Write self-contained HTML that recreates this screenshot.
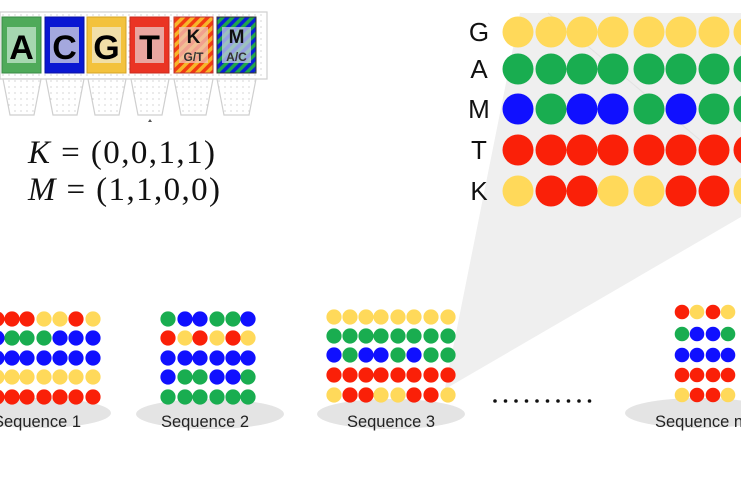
<!DOCTYPE html>
<html><head><meta charset="utf-8"><style>
html,body{margin:0;padding:0;background:#fff;width:741px;height:486px;overflow:hidden}
svg{display:block}
</style></head><body>
<svg width="741" height="486" viewBox="0 0 741 486" xmlns="http://www.w3.org/2000/svg">
<defs>
<pattern id="dots" width="6" height="6" patternUnits="userSpaceOnUse"><rect width="6" height="6" fill="#fff"/><circle cx="3" cy="3" r="0.6" fill="#bbb"/></pattern>
<pattern id="kstripe" width="7" height="7" patternUnits="userSpaceOnUse" patternTransform="rotate(45)"><rect width="7" height="7" fill="#f23a12"/><rect width="3.5" height="7" fill="#f7b52a"/></pattern>
<pattern id="mstripe" width="7" height="7" patternUnits="userSpaceOnUse" patternTransform="rotate(45)"><rect width="7" height="7" fill="#0a1fd6"/><rect width="3.5" height="7" fill="#1fa64a"/></pattern>
</defs>

<polygon points="520,13 741,13 741,217 447,388 445,388" fill="#efefef"/>
<line x1="548" y1="13" x2="700" y2="140" stroke="#e2e2e2" stroke-width="1"/>

<rect x="0" y="12" width="267" height="67" fill="url(#dots)" stroke="#cfcfcf" stroke-width="1.2"/>
<g stroke="#cfcfcf" stroke-width="1.2" fill="url(#dots)">
<polygon points="3,79 41,79 34,115 10,115"/>
<polygon points="46,79 84,79 77,115 53,115"/>
<polygon points="88,79 126,79 119,115 95,115"/>
<polygon points="131,79 169,79 162,115 138,115"/>
<polygon points="174,79 213,79 206,115 181,115"/>
<polygon points="217,79 256,79 249,115 224,115"/>
</g>
<path d="M148,122 l2,-3 l2,3z" fill="#555"/>
<rect x="2" y="17" width="39" height="56" fill="#4faa5a" stroke="#3a8a45"/>
<rect x="7" y="27" width="29" height="36" fill="#a6d7b0"/>
<rect x="45" y="17" width="39" height="56" fill="#0a17d2" stroke="#0a10a0"/>
<rect x="50" y="27" width="29" height="36" fill="#a4a8de"/>
<rect x="87" y="17" width="39" height="56" fill="#f3c23d" stroke="#d6a428"/>
<rect x="92" y="27" width="29" height="36" fill="#f1dfa8"/>
<rect x="130" y="17" width="39" height="56" fill="#ea3424" stroke="#c82a1c"/>
<rect x="135" y="27" width="29" height="36" fill="#e9a6a0"/>
<rect x="174" y="17" width="39" height="56" fill="url(#kstripe)" stroke="#b33"/>
<rect x="179" y="27" width="29" height="36" fill="#f0c3b8" opacity="0.75"/>
<rect x="217" y="17" width="39" height="56" fill="url(#mstripe)" stroke="#333"/>
<rect x="222" y="27" width="29" height="36" fill="#c5cbe6" opacity="0.75"/>
<g font-family="Liberation Sans, sans-serif" font-weight="bold" text-anchor="middle" fill="#111">
<text x="21.5" y="59" font-size="34" fill="#000">A</text>
<text x="64.5" y="59" font-size="34" fill="#000">C</text>
<text x="106.5" y="59" font-size="34" fill="#000">G</text>
<text x="149.5" y="59" font-size="34" fill="#000">T</text>
<text x="193.5" y="43" font-size="19">K</text>
<text x="193.5" y="61" font-size="12" fill="#333">G/T</text>
<text x="236.5" y="43" font-size="19">M</text>
<text x="236.5" y="61" font-size="12" fill="#333">A/C</text>
</g>

<g font-family="Liberation Serif, serif" font-size="33" fill="#111">
<text x="28" y="163" textLength="187" lengthAdjust="spacing"><tspan font-style="italic">K</tspan> = (0,0,1,1)</text>
<text x="28" y="200" textLength="192" lengthAdjust="spacing"><tspan font-style="italic">M</tspan> = (1,1,0,0)</text>
</g>

<g font-family="Liberation Sans, sans-serif" font-size="26" fill="#111" text-anchor="middle">
<text x="479" y="41">G</text>
<text x="479" y="78">A</text>
<text x="479" y="118">M</text>
<text x="479" y="159">T</text>
<text x="479" y="200">K</text>
</g>
<g>
<circle cx="518" cy="32" r="15.5" fill="#ffd95a"/><circle cx="551" cy="32" r="15.5" fill="#ffd95a"/><circle cx="582" cy="32" r="15.5" fill="#ffd95a"/><circle cx="613" cy="32" r="15.5" fill="#ffd95a"/><circle cx="649" cy="32" r="15.5" fill="#ffd95a"/><circle cx="681" cy="32" r="15.5" fill="#ffd95a"/><circle cx="714" cy="32" r="15.5" fill="#ffd95a"/><circle cx="749" cy="32" r="15.5" fill="#ffd95a"/>
<circle cx="518" cy="69" r="15.5" fill="#19ad50"/><circle cx="551" cy="69" r="15.5" fill="#19ad50"/><circle cx="582" cy="69" r="15.5" fill="#19ad50"/><circle cx="613" cy="69" r="15.5" fill="#19ad50"/><circle cx="649" cy="69" r="15.5" fill="#19ad50"/><circle cx="681" cy="69" r="15.5" fill="#19ad50"/><circle cx="714" cy="69" r="15.5" fill="#19ad50"/><circle cx="749" cy="69" r="15.5" fill="#19ad50"/>
<circle cx="518" cy="109" r="15.5" fill="#1010ff"/><circle cx="551" cy="109" r="15.5" fill="#19ad50"/><circle cx="582" cy="109" r="15.5" fill="#1010ff"/><circle cx="613" cy="109" r="15.5" fill="#1010ff"/><circle cx="649" cy="109" r="15.5" fill="#19ad50"/><circle cx="681" cy="109" r="15.5" fill="#1010ff"/><circle cx="714" cy="109" r="15.5" fill="#19ad50"/><circle cx="749" cy="109" r="15.5" fill="#19ad50"/>
<circle cx="518" cy="150" r="15.5" fill="#fa2008"/><circle cx="551" cy="150" r="15.5" fill="#fa2008"/><circle cx="582" cy="150" r="15.5" fill="#fa2008"/><circle cx="613" cy="150" r="15.5" fill="#fa2008"/><circle cx="649" cy="150" r="15.5" fill="#fa2008"/><circle cx="681" cy="150" r="15.5" fill="#fa2008"/><circle cx="714" cy="150" r="15.5" fill="#fa2008"/><circle cx="749" cy="150" r="15.5" fill="#fa2008"/>
<circle cx="518" cy="191" r="15.5" fill="#ffd95a"/><circle cx="551" cy="191" r="15.5" fill="#fa2008"/><circle cx="582" cy="191" r="15.5" fill="#fa2008"/><circle cx="613" cy="191" r="15.5" fill="#ffd95a"/><circle cx="649" cy="191" r="15.5" fill="#ffd95a"/><circle cx="681" cy="191" r="15.5" fill="#fa2008"/><circle cx="714" cy="191" r="15.5" fill="#fa2008"/><circle cx="749" cy="191" r="15.5" fill="#ffd95a"/>
</g>

<g fill="#e4e4e4">
<ellipse cx="37" cy="413" rx="74" ry="15"/>
<ellipse cx="210" cy="414" rx="74" ry="15"/>
<ellipse cx="391" cy="414" rx="74" ry="15"/>
<ellipse cx="700" cy="413" rx="75" ry="15"/>
</g>

<g>
<circle cx="-3" cy="319" r="7.6" fill="#fa2008"/><circle cx="12" cy="319" r="7.6" fill="#fa2008"/><circle cx="27" cy="319" r="7.6" fill="#fa2008"/><circle cx="44" cy="319" r="7.6" fill="#ffd95a"/><circle cx="60" cy="319" r="7.6" fill="#ffd95a"/><circle cx="76" cy="319" r="7.6" fill="#fa2008"/><circle cx="93" cy="319" r="7.6" fill="#ffd95a"/>
<circle cx="-3" cy="338" r="7.6" fill="#1010ff"/><circle cx="12" cy="338" r="7.6" fill="#19ad50"/><circle cx="27" cy="338" r="7.6" fill="#19ad50"/><circle cx="44" cy="338" r="7.6" fill="#19ad50"/><circle cx="60" cy="338" r="7.6" fill="#1010ff"/><circle cx="76" cy="338" r="7.6" fill="#1010ff"/><circle cx="93" cy="338" r="7.6" fill="#1010ff"/>
<circle cx="-3" cy="358" r="7.6" fill="#1010ff"/><circle cx="12" cy="358" r="7.6" fill="#1010ff"/><circle cx="27" cy="358" r="7.6" fill="#1010ff"/><circle cx="44" cy="358" r="7.6" fill="#1010ff"/><circle cx="60" cy="358" r="7.6" fill="#1010ff"/><circle cx="76" cy="358" r="7.6" fill="#1010ff"/><circle cx="93" cy="358" r="7.6" fill="#1010ff"/>
<circle cx="-3" cy="377" r="7.6" fill="#ffd95a"/><circle cx="12" cy="377" r="7.6" fill="#ffd95a"/><circle cx="27" cy="377" r="7.6" fill="#ffd95a"/><circle cx="44" cy="377" r="7.6" fill="#ffd95a"/><circle cx="60" cy="377" r="7.6" fill="#ffd95a"/><circle cx="76" cy="377" r="7.6" fill="#ffd95a"/><circle cx="93" cy="377" r="7.6" fill="#ffd95a"/>
<circle cx="-3" cy="397" r="7.6" fill="#fa2008"/><circle cx="12" cy="397" r="7.6" fill="#fa2008"/><circle cx="27" cy="397" r="7.6" fill="#fa2008"/><circle cx="44" cy="397" r="7.6" fill="#fa2008"/><circle cx="60" cy="397" r="7.6" fill="#fa2008"/><circle cx="76" cy="397" r="7.6" fill="#fa2008"/><circle cx="93" cy="397" r="7.6" fill="#fa2008"/>
</g>
<g>
<circle cx="168" cy="319" r="7.6" fill="#19ad50"/><circle cx="185" cy="319" r="7.6" fill="#1010ff"/><circle cx="200" cy="319" r="7.6" fill="#1010ff"/><circle cx="217" cy="319" r="7.6" fill="#19ad50"/><circle cx="233" cy="319" r="7.6" fill="#19ad50"/><circle cx="248" cy="319" r="7.6" fill="#1010ff"/>
<circle cx="168" cy="338" r="7.6" fill="#fa2008"/><circle cx="185" cy="338" r="7.6" fill="#ffd95a"/><circle cx="200" cy="338" r="7.6" fill="#fa2008"/><circle cx="217" cy="338" r="7.6" fill="#ffd95a"/><circle cx="233" cy="338" r="7.6" fill="#fa2008"/><circle cx="248" cy="338" r="7.6" fill="#ffd95a"/>
<circle cx="168" cy="358" r="7.6" fill="#1010ff"/><circle cx="185" cy="358" r="7.6" fill="#1010ff"/><circle cx="200" cy="358" r="7.6" fill="#1010ff"/><circle cx="217" cy="358" r="7.6" fill="#1010ff"/><circle cx="233" cy="358" r="7.6" fill="#1010ff"/><circle cx="248" cy="358" r="7.6" fill="#1010ff"/>
<circle cx="168" cy="377" r="7.6" fill="#1010ff"/><circle cx="185" cy="377" r="7.6" fill="#19ad50"/><circle cx="200" cy="377" r="7.6" fill="#19ad50"/><circle cx="217" cy="377" r="7.6" fill="#1010ff"/><circle cx="233" cy="377" r="7.6" fill="#1010ff"/><circle cx="248" cy="377" r="7.6" fill="#19ad50"/>
<circle cx="168" cy="397" r="7.6" fill="#19ad50"/><circle cx="185" cy="397" r="7.6" fill="#19ad50"/><circle cx="200" cy="397" r="7.6" fill="#19ad50"/><circle cx="217" cy="397" r="7.6" fill="#19ad50"/><circle cx="233" cy="397" r="7.6" fill="#19ad50"/><circle cx="248" cy="397" r="7.6" fill="#19ad50"/>
</g>
<g>
<circle cx="334" cy="317" r="7.6" fill="#ffd95a"/><circle cx="350" cy="317" r="7.6" fill="#ffd95a"/><circle cx="366" cy="317" r="7.6" fill="#ffd95a"/><circle cx="381" cy="317" r="7.6" fill="#ffd95a"/><circle cx="398" cy="317" r="7.6" fill="#ffd95a"/><circle cx="414" cy="317" r="7.6" fill="#ffd95a"/><circle cx="431" cy="317" r="7.6" fill="#ffd95a"/><circle cx="448" cy="317" r="7.6" fill="#ffd95a"/>
<circle cx="334" cy="336" r="7.6" fill="#19ad50"/><circle cx="350" cy="336" r="7.6" fill="#19ad50"/><circle cx="366" cy="336" r="7.6" fill="#19ad50"/><circle cx="381" cy="336" r="7.6" fill="#19ad50"/><circle cx="398" cy="336" r="7.6" fill="#19ad50"/><circle cx="414" cy="336" r="7.6" fill="#19ad50"/><circle cx="431" cy="336" r="7.6" fill="#19ad50"/><circle cx="448" cy="336" r="7.6" fill="#19ad50"/>
<circle cx="334" cy="355" r="7.6" fill="#1010ff"/><circle cx="350" cy="355" r="7.6" fill="#19ad50"/><circle cx="366" cy="355" r="7.6" fill="#1010ff"/><circle cx="381" cy="355" r="7.6" fill="#1010ff"/><circle cx="398" cy="355" r="7.6" fill="#19ad50"/><circle cx="414" cy="355" r="7.6" fill="#1010ff"/><circle cx="431" cy="355" r="7.6" fill="#19ad50"/><circle cx="448" cy="355" r="7.6" fill="#19ad50"/>
<circle cx="334" cy="375" r="7.6" fill="#fa2008"/><circle cx="350" cy="375" r="7.6" fill="#fa2008"/><circle cx="366" cy="375" r="7.6" fill="#fa2008"/><circle cx="381" cy="375" r="7.6" fill="#fa2008"/><circle cx="398" cy="375" r="7.6" fill="#fa2008"/><circle cx="414" cy="375" r="7.6" fill="#fa2008"/><circle cx="431" cy="375" r="7.6" fill="#fa2008"/><circle cx="448" cy="375" r="7.6" fill="#fa2008"/>
<circle cx="334" cy="395" r="7.6" fill="#ffd95a"/><circle cx="350" cy="395" r="7.6" fill="#fa2008"/><circle cx="366" cy="395" r="7.6" fill="#fa2008"/><circle cx="381" cy="395" r="7.6" fill="#ffd95a"/><circle cx="398" cy="395" r="7.6" fill="#ffd95a"/><circle cx="414" cy="395" r="7.6" fill="#fa2008"/><circle cx="431" cy="395" r="7.6" fill="#fa2008"/><circle cx="448" cy="395" r="7.6" fill="#ffd95a"/>
</g>
<g>
<circle cx="682" cy="312" r="7.3" fill="#fa2008"/><circle cx="697" cy="312" r="7.3" fill="#ffd95a"/><circle cx="713" cy="312" r="7.3" fill="#fa2008"/><circle cx="728" cy="312" r="7.3" fill="#ffd95a"/>
<circle cx="682" cy="334" r="7.3" fill="#19ad50"/><circle cx="697" cy="334" r="7.3" fill="#1010ff"/><circle cx="713" cy="334" r="7.3" fill="#1010ff"/><circle cx="728" cy="334" r="7.3" fill="#19ad50"/>
<circle cx="682" cy="355" r="7.3" fill="#1010ff"/><circle cx="697" cy="355" r="7.3" fill="#1010ff"/><circle cx="713" cy="355" r="7.3" fill="#1010ff"/><circle cx="728" cy="355" r="7.3" fill="#1010ff"/>
<circle cx="682" cy="375" r="7.3" fill="#fa2008"/><circle cx="697" cy="375" r="7.3" fill="#fa2008"/><circle cx="713" cy="375" r="7.3" fill="#fa2008"/><circle cx="728" cy="375" r="7.3" fill="#fa2008"/>
<circle cx="682" cy="395" r="7.3" fill="#ffd95a"/><circle cx="697" cy="395" r="7.3" fill="#fa2008"/><circle cx="713" cy="395" r="7.3" fill="#fa2008"/><circle cx="728" cy="395" r="7.3" fill="#ffd95a"/>
</g>

<g fill="#111">
<circle cx="495" cy="401" r="1.8"/><circle cx="505.5" cy="401" r="1.8"/><circle cx="516" cy="401" r="1.8"/><circle cx="526.5" cy="401" r="1.8"/><circle cx="537" cy="401" r="1.8"/><circle cx="547.5" cy="401" r="1.8"/><circle cx="558" cy="401" r="1.8"/><circle cx="568.5" cy="401" r="1.8"/><circle cx="579" cy="401" r="1.8"/><circle cx="589.5" cy="401" r="1.8"/>
</g>

<g font-family="Liberation Sans, sans-serif" font-size="16.5" fill="#222" text-anchor="middle">
<text x="37" y="427">Sequence 1</text>
<text x="205" y="427">Sequence 2</text>
<text x="391" y="427">Sequence 3</text>
<text x="655" y="427" text-anchor="start">Sequence n</text>
</g>
</svg>
</body></html>
